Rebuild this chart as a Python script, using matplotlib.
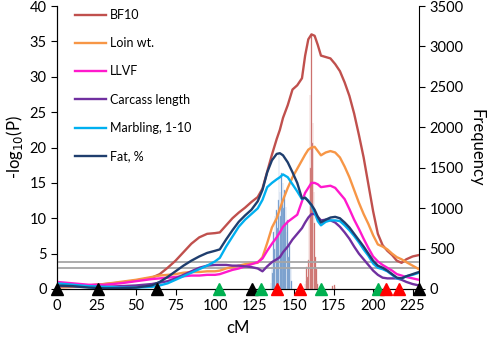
import matplotlib
matplotlib.use("Agg")
import matplotlib.pyplot as plt

plt.rcParams["font.family"] = ["Lato", "DejaVu Sans"]

# position along the chromosome (cM)
cm = [0, 10, 20, 30, 40, 50, 60, 65, 70, 75, 80, 85, 90, 95, 100, 103, 107, 111, 115, 119,
      123, 127, 130, 133, 136, 139, 141, 143, 146, 149, 152, 155, 157, 159, 161, 163, 165, 167,
      170, 173, 176, 179, 182, 185, 188, 191, 194, 197, 200, 203, 206, 209, 212, 215, 218, 221,
      225, 229]

bf10 = [0.3, 0.35, 0.5, 0.7, 0.9, 1.2, 1.6, 2.1, 3.0, 4.0, 5.2, 6.4, 7.3, 7.8, 7.9, 8.0, 9.0, 10.0,
        10.8, 11.5, 12.3, 13.0, 14.2, 16.6, 19.0, 21.2, 22.5, 24.2, 26.0, 28.2, 28.8, 29.8, 33.0,
        35.3, 36.0, 35.8, 34.5, 33.0, 32.8, 32.6, 31.8, 30.8, 29.2, 27.3, 24.8, 21.8, 18.6, 14.8,
        11.0, 7.8, 6.2, 5.4, 4.8, 4.0, 3.7, 4.2, 4.6, 4.8]
loin = [0.2, 0.3, 0.5, 0.7, 1.0, 1.3, 1.7, 1.9, 2.0, 2.1, 2.3, 2.4, 2.4, 2.5, 2.5, 2.6, 2.9, 3.1,
        3.3, 3.5, 3.6, 3.7, 4.5, 6.5, 8.7, 10.0, 11.3, 12.6, 14.3, 15.8, 17.0, 18.2, 19.0, 19.7,
        20.0, 20.1, 19.5, 18.9, 19.3, 19.5, 19.3, 18.6, 17.3, 15.8, 14.0, 12.2, 10.6, 9.2, 7.6,
        6.3, 6.0, 5.6, 5.0, 4.5, 4.2, 3.8, 3.3, 2.8]
llvf = [1.0, 0.8, 0.6, 0.6, 0.8, 1.1, 1.4, 1.5, 1.6, 1.7, 1.8, 1.9, 1.9, 2.0, 2.0, 2.1, 2.4, 2.7,
        2.9, 3.2, 3.5, 3.8, 4.3, 5.4, 6.4, 7.3, 8.0, 8.8, 9.5, 10.0, 10.5, 12.4, 13.6, 14.3, 15.0,
        15.0, 14.8, 14.4, 14.5, 14.6, 14.3, 13.5, 12.7, 11.3, 9.8, 8.5, 7.1, 5.8, 4.6, 3.9, 3.4,
        3.0, 2.6, 2.1, 1.9, 1.7, 1.5, 1.3]
carcass = [0.4, 0.4, 0.3, 0.3, 0.4, 0.5, 0.7, 0.9, 1.1, 1.5, 2.0, 2.5, 3.0, 3.3, 3.4, 3.4, 3.4,
           3.3, 3.3, 3.2, 3.1, 2.9, 2.5, 3.2, 3.8, 4.2, 4.5, 5.2, 6.0, 7.0, 7.8, 8.6, 9.4, 10.1,
           10.6, 10.6, 10.2, 9.7, 9.8, 9.7, 9.4, 8.8, 8.0, 7.1, 6.0, 5.0, 4.2, 3.4, 2.6, 2.0, 1.6,
           1.5, 1.5, 1.5, 1.3, 1.0, 0.7, 0.5]
marbling = [0.8, 0.6, 0.4, 0.3, 0.2, 0.2, 0.3, 0.5, 0.8, 1.3, 1.8, 2.3, 2.8, 3.3, 3.9, 4.4, 6.0,
            7.4, 8.8, 9.8, 10.6, 11.4, 12.6, 14.4, 15.0, 15.5, 15.8, 16.2, 15.8, 14.8, 13.8, 12.7,
            12.9, 12.5, 11.8, 10.8, 9.6, 9.0, 9.5, 9.7, 9.7, 9.6, 9.0, 8.3, 7.5, 6.6, 5.6, 4.7,
            3.6, 3.0, 2.8, 2.5, 2.0, 1.5, 1.5, 1.8, 2.0, 2.3]
fat = [0.5, 0.4, 0.2, 0.1, 0.1, 0.2, 0.5, 1.0, 1.7, 2.5, 3.3, 4.0, 4.6, 5.1, 5.4, 5.6, 7.0, 8.3,
       9.5, 10.4, 11.2, 12.4, 14.0, 16.5, 18.2, 19.1, 19.2, 18.9, 17.9, 16.5, 15.0, 12.8, 12.9,
       12.4, 11.9, 11.2, 10.2, 9.4, 9.8, 10.1, 10.2, 10.0, 9.4, 8.7, 7.8, 6.9, 6.0, 5.0, 4.0,
       3.3, 3.0, 2.6, 2.1, 1.6, 1.5, 1.8, 2.1, 2.4]

# peak position frequencies (right axis)
blue_bins = [135.5, 136, 136.5, 137, 137.5, 138, 138.5, 139, 139.5, 140, 140.5, 141, 141.5, 142,
             142.5, 143, 143.5, 144, 144.5, 145, 145.5, 146, 146.5, 147, 147.5, 148, 148.5]
blue_freq = [80, 350, 200, 700, 500, 900, 600, 980, 750, 1100, 1680, 1200, 900, 1435, 1100, 1310,
             1000, 1225, 800, 1015, 700, 850, 400, 560, 250, 270, 100]
red_bins = [157, 157.5, 158, 158.5, 159, 159.5, 160, 160.5, 161, 161.5, 162, 162.5, 163, 163.5,
            164, 164.5, 165, 174.5, 175.5, 176]
red_freq = [60, 100, 270, 150, 360, 900, 2400, 1500, 3140, 1800, 2050, 1200, 815, 400, 250, 100,
            60, 40, 50, 30]

thresholds = [3.85, 2.9]

# flanking markers
black_marks = [0, 26, 63.5, 123.5, 229]
green_marks = [102.5, 129, 167, 203]
red_marks = [139.5, 153.5, 208, 216.5]

fig = plt.figure(figsize=(4.9, 3.38), dpi=100)
ax = fig.add_axes([0.1163, 0.145, 0.7387, 0.837])
ax2 = ax.twinx()

ax2.bar(blue_bins, blue_freq, width=0.4, color="#4F81BD", edgecolor="#A7C0E0", linewidth=0.3)
ax2.bar(red_bins, red_freq, width=0.4, color="#C0504D", edgecolor="#DFA09E", linewidth=0.3)
ax2.set_ylim(0, 3500)
ax2.set_yticks(range(0, 3501, 500))
ax2.set_ylabel("Frequency", rotation=270, labelpad=15, fontsize=12)

ax.set_zorder(ax2.get_zorder() + 1)
ax.patch.set_visible(False)

for t in thresholds:
    ax.axhline(t, color="#A6A6A6", lw=1.3, zorder=1)

series = [("BF10", bf10, "#C0504D"), ("Loin wt.", loin, "#F79646"), ("LLVF", llvf, "#FF19CC"),
          ("Carcass length", carcass, "#7030A0"), ("Marbling, 1-10", marbling, "#00B0F0"),
          ("Fat, %", fat, "#1F3E6E")]
for name, vals, col in series:
    ax.plot(cm, vals, color=col, lw=1.7, label=name, solid_joinstyle="round", zorder=2)

for marks, col in [(black_marks, "black"), (green_marks, "#00B050"), (red_marks, "#FF0000")]:
    ax.plot(marks, [0] * len(marks), "^", color=col, ms=8, clip_on=False, zorder=5)

ax.set_xlim(0, 229)
ax.set_ylim(0, 40)
ax.set_xticks(range(0, 226, 25))
ax.set_yticks(range(0, 41, 5))
ax.set_xlabel("cM", fontsize=12, labelpad=5)
ax.set_ylabel("-log$_{10}$(P)", fontsize=12, labelpad=3)

for a in (ax, ax2):
    a.spines["top"].set_visible(False)
    a.tick_params(labelsize=10.5, length=4, width=0.8)
ax.spines["right"].set_visible(False)

ax.legend(loc="upper left", bbox_to_anchor=(0.05, 0.99), frameon=False, fontsize=9,
          labelspacing=1.3, handlelength=2.5, handletextpad=0.3, borderpad=0, borderaxespad=0)

fig.savefig("out.png", dpi=100)
